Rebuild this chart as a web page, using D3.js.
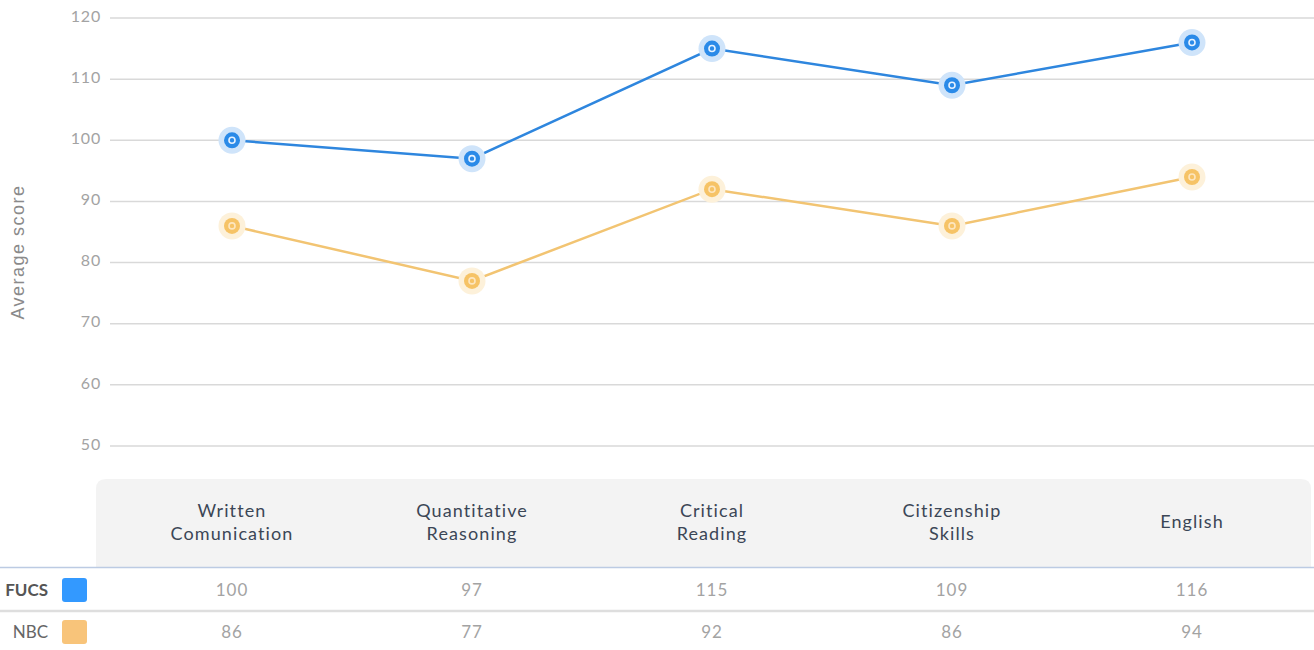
<!DOCTYPE html>
<html>
<head>
<meta charset="utf-8">
<script src="https://cdn.jsdelivr.net/npm/d3@7"></script>
<style>
  html, body { margin: 0; padding: 0; background: #fff; }
  svg { display: block; }
  text { font-family: Lato, "Open Sans", sans-serif; }
</style>
</head>
<body>
<svg id="chart" width="1314" height="650"></svg>
<script>
const categories = [["Written", "Comunication"], ["Quantitative", "Reasoning"], ["Critical", "Reading"], ["Citizenship", "Skills"], ["English"]];
const categoryKeys = ["Written Comunication", "Quantitative Reasoning", "Critical Reading", "Citizenship Skills", "English"];
const fucsValues = [100, 97, 115, 109, 116];
const nbcValues = [86, 77, 92, 86, 94];
const yTicks = [50, 60, 70, 80, 90, 100, 110, 120];
const seriesNames = ["FUCS", "NBC"];

const svg = d3.select("#chart");
const W = 1314, H = 650;

const x = d3.scaleBand().domain(categoryKeys).range([112, 1312]);
const y = d3.scaleLinear().domain([50, 120]).range([446, 18]);
const cx = k => x(k) + x.bandwidth() / 2;

// grid + y axis
const yAxis = d3.axisLeft(y).tickValues(yTicks).tickSize(0).tickPadding(0);
const gY = svg.append("g").attr("transform", "translate(101,0)").call(yAxis);
gY.select(".domain").remove();
gY.selectAll("text").attr("fill", "#a3a3a3").attr("font-size", 16)
  .style("letter-spacing", "0.8px").attr("dy", "0.2em");

svg.append("g").selectAll("line").data(yTicks).join("line")
  .attr("x1", 110).attr("x2", W)
  .attr("y1", d => y(d)).attr("y2", d => y(d))
  .attr("stroke", "#d9d9d9").attr("stroke-width", 1.5);

svg.append("text")
  .attr("transform", "translate(24,252) rotate(-90)")
  .attr("text-anchor", "middle")
  .attr("font-size", 18).attr("fill", "#8a8a8a")
  .style("font-family", "'Liberation Sans', Arial, sans-serif")
  .style("letter-spacing", "1.5px")
  .text("Average score");

// series
const series = [
  { name: "FUCS", values: fucsValues, line: "#2e86de", halo: "#cfe4fa", dot: "#2a8ae8", ring: "#e6f2ff" },
  { name: "NBC", values: nbcValues, line: "#f2c472", halo: "#fdf1da", dot: "#f6c366", ring: "#fde6c0" }
];
const lineGen = d3.line().x((d, i) => cx(categoryKeys[i])).y(d => y(d));

series.slice().reverse().forEach(s => {
  const g = svg.append("g");
  g.append("path").datum(s.values).attr("d", lineGen)
    .attr("fill", "none").attr("stroke", s.line).attr("stroke-width", 2.5);
  const pts = g.selectAll("g.pt").data(s.values).join("g")
    .attr("transform", (d, i) => `translate(${cx(categoryKeys[i])},${y(d)})`);
  pts.append("circle").attr("r", 13.5).attr("fill", s.halo);
  pts.append("circle").attr("r", 8).attr("fill", s.dot);
  pts.append("circle").attr("r", 3).attr("fill", "none").attr("stroke", s.ring).attr("stroke-width", 1.6);
});

// table header
const hx0 = 96, hx1 = 1311, hy0 = 479, hy1 = 567, r = 10;
svg.append("path")
  .attr("d", `M${hx0},${hy1} L${hx0},${hy0 + r} Q${hx0},${hy0} ${hx0 + r},${hy0} L${hx1 - r},${hy0} Q${hx1},${hy0} ${hx1},${hy0 + r} L${hx1},${hy1} Z`)
  .attr("fill", "#f3f3f3");

const head = svg.append("g").selectAll("text").data(categories).join("text")
  .attr("x", (d, i) => cx(categoryKeys[i]))
  .attr("text-anchor", "middle")
  .attr("font-size", 18).attr("fill", "#3b4656")
  .style("letter-spacing", "1.1px");
head.each(function(d) {
  const t = d3.select(this);
  const startY = d.length === 1 ? 528 : 517;
  d.forEach((line, j) => {
    t.append("tspan").attr("x", t.attr("x")).attr("y", startY + j * 23).text(line);
  });
});

svg.append("line").attr("x1", 0).attr("x2", W).attr("y1", 567.5).attr("y2", 567.5)
  .attr("stroke", "#bccbe3").attr("stroke-width", 1.5);
svg.append("line").attr("x1", 0).attr("x2", W).attr("y1", 611).attr("y2", 611)
  .attr("stroke", "#dedede").attr("stroke-width", 2.5);

// rows
const rowY = [590, 632];
series.forEach((s, ri) => {
  svg.append("text").attr("x", 48).attr("y", rowY[ri]).attr("dy", "0.35em")
    .attr("text-anchor", "end").attr("font-size", 17)
    .attr("font-weight", ri === 0 ? 700 : 400)
    .attr("fill", ri === 0 ? "#555" : "#666")
    .text(seriesNames[ri]);
  svg.append("rect").attr("x", 62).attr("y", rowY[ri] - 12).attr("width", 25).attr("height", 24)
    .attr("rx", 3).attr("fill", ri === 0 ? "#3399ff" : "#f8c47a");
  svg.append("g").selectAll("text").data(s.values).join("text")
    .attr("x", (d, i) => cx(categoryKeys[i]))
    .attr("y", rowY[ri]).attr("dy", "0.35em")
    .attr("text-anchor", "middle").attr("font-size", 17).attr("fill", "#a3a3a3")
    .style("letter-spacing", "1px")
    .text(d => d);
});
</script>
</body>
</html>
